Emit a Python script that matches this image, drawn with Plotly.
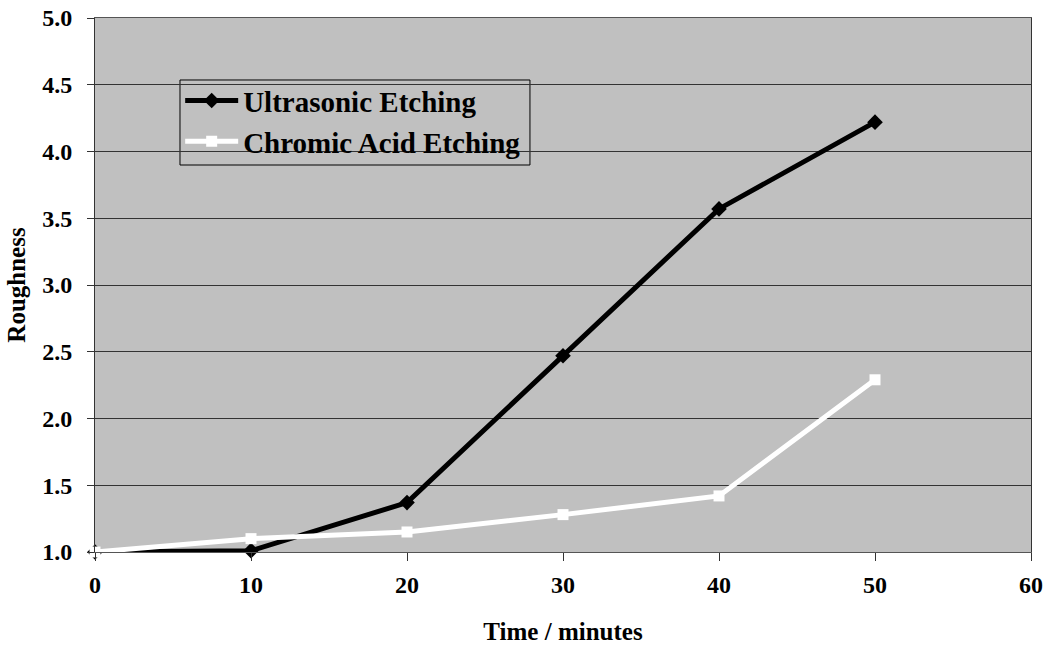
import plotly.graph_objects as go

time_min = [0, 10, 20, 30, 40, 50]
ultrasonic = [1.0, 1.01, 1.37, 2.47, 3.57, 4.22]
chromic = [1.0, 1.1, 1.15, 1.28, 1.42, 2.29]
y_ticks = [1.0, 1.5, 2.0, 2.5, 3.0, 3.5, 4.0, 4.5, 5.0]
x_ticks = [0, 10, 20, 30, 40, 50, 60]

font_family = "Liberation Serif, Times New Roman, serif"

fig = go.Figure()
fig.add_trace(go.Scatter(
    x=time_min, y=ultrasonic, mode="lines+markers", name="<b>Ultrasonic Etching</b>",
    line=dict(color="black", width=5),
    marker=dict(symbol="diamond", size=12, color="black"),
    cliponaxis=False,
))
fig.add_trace(go.Scatter(
    x=time_min, y=chromic, mode="lines+markers", name="<b>Chromic Acid Etching</b>",
    line=dict(color="white", width=5),
    marker=dict(symbol="square", size=11, color="white"),
    cliponaxis=False,
))

fig.update_layout(
    width=1048, height=645,
    margin=dict(l=95, r=17, t=18, b=93, autoexpand=False),
    paper_bgcolor="white",
    plot_bgcolor="#C0C0C0",
    font=dict(family=font_family, size=24, color="black"),
    showlegend=True,
    legend=dict(
        x=0.091, y=0.893, xanchor="left", yanchor="top",
        bgcolor="rgba(0,0,0,0)", borderwidth=0,
        font=dict(family=font_family, size=29, color="black"),
        tracegroupgap=0, itemwidth=53,
    ),
    shapes=[dict(
        type="rect", xref="paper", yref="paper",
        x0=0.0908, x1=0.4647, y0=0.7247, y1=0.8839,
        line=dict(color="black", width=1), fillcolor="#C0C0C0", layer="below",
    )],
)
fig.update_xaxes(
    range=[0, 60], tickvals=x_ticks, ticktext=[f"<b>{v}</b>" for v in x_ticks],
    ticks="outside", ticklen=8, tickcolor="#333333",
    showgrid=False, zeroline=False, automargin=False,
    showline=True, linecolor="#555555", linewidth=1, mirror=True,
    ticklabelstandoff=3,
    tickfont=dict(size=24),
    title=dict(text="<b>Time / minutes</b>", font=dict(size=25), standoff=30),
)
fig.update_yaxes(
    range=[1, 5], tickvals=y_ticks, ticktext=[f"<b>{v:.1f}</b>" for v in y_ticks],
    ticks="outside", ticklen=7, tickcolor="#333333",
    showgrid=True, gridcolor="#333333", gridwidth=1, zeroline=False, automargin=False,
    showline=True, linecolor="#333333", linewidth=1, mirror=True,
    ticklabelstandoff=10,
    tickfont=dict(size=24),
    title=dict(text="<b>Roughness</b>", font=dict(size=25), standoff=9),
)

fig.write_html("out.html")
